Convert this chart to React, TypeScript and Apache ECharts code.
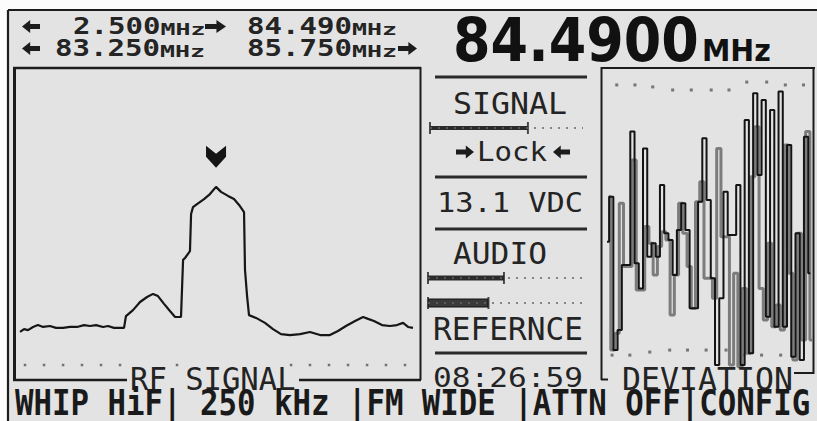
import React, { useEffect, useRef } from "react";
import * as echarts from "echarts";

// RF spectrum (MHz, relative level %)
const rfFreq = [83.269, 83.294, 83.319, 83.35, 83.381, 83.413, 83.456, 83.494, 83.538, 83.581, 83.625, 83.669, 83.706, 83.744, 83.788, 83.819, 83.856, 83.919, 83.931, 83.975, 84.019, 84.063, 84.1, 84.131, 84.169, 84.206, 84.238, 84.275, 84.288, 84.3, 84.331, 84.338, 84.35, 84.375, 84.419, 84.456, 84.494, 84.525, 84.569, 84.606, 84.638, 84.669, 84.675, 84.688, 84.7, 84.744, 84.8, 84.85, 84.9, 84.956, 85.019, 85.081, 85.144, 85.206, 85.256, 85.306, 85.363, 85.413, 85.444, 85.481, 85.531, 85.581, 85.625, 85.663, 85.694, 85.725];
const rfLevel = [15.4, 16.3, 16.0, 17.0, 17.6, 17.0, 17.3, 16.7, 16.7, 17.0, 17.0, 17.6, 17.3, 17.6, 17.0, 17.3, 16.7, 16.7, 20.5, 22.4, 25.0, 26.6, 27.6, 26.9, 24.4, 22.1, 20.2, 20.2, 38.5, 39.1, 41.3, 53.2, 55.4, 56.4, 58.0, 59.6, 61.9, 60.3, 59.0, 58.0, 56.1, 53.8, 35.3, 26.9, 20.8, 19.9, 18.3, 16.3, 14.7, 14.4, 14.7, 15.4, 14.4, 14.4, 15.7, 17.3, 18.9, 20.2, 19.6, 18.9, 17.6, 17.3, 17.6, 18.3, 17.0, 16.7];
const rfDotFreq = [83.3, 83.419, 83.538, 83.656, 83.775, 83.894, 84.25, 84.963, 85.081, 85.2, 85.319, 85.438, 85.556, 85.675];
const rfDotLevel = 4.8;

// Deviation (kHz) traces
const devBlack = [-10.4, 14.6, -70.5, -59.4, -23.3, -23.3, 50.7, -22.4, -36.3, 41.4, -18.7, -11.3, -18.7, 21.1, -5.7, -9.4, -28.9, -3.9, 10.9, -3.9, -47.3, -47.3, 11.8, 47.0, 12.8, -30.7, -78.8, -41.8, 17.4, -6.7, -6.7, 21.1, -78.8, 57.2, -72.3, 72.0, 26.6, 68.3, -52.0, 62.7, -57.5, 72.9, -57.5, 43.3, -74.2, -5.7, -76.0, 47.9, -27.9];
const devGray = [14.6, -70.5, -61.2, 10.9, -24.2, -24.2, 35.0, -37.2, -37.2, -2.0, -11.3, -28.9, -13.1, -4.8, -9.4, -51.1, -28.9, 10.9, -5.7, -24.2, -47.3, 11.8, 22.9, -30.7, -30.7, -41.8, 41.4, -7.6, -7.6, -78.8, -27.9, -79.7, -36.3, -72.3, 25.7, 53.4, -36.3, -53.8, -11.3, -57.5, -45.5, -59.4, 43.3, -27.9, -76.0, -5.7, -64.9, 50.7, -64.9];
const devHoldHighIdx = [2.3, 6.6, 10.8, 15.5, 19.9, 24.6, 28.8, 33.0, 37.7, 42.1, 46.4];
const devHoldHigh = [76.6, 76.6, 75.5, 73.8, 73.8, 73.8, 73.8, 78.2, 78.2, 76.6, 76.6];
const devHoldLowIdx = [1.2, 5.4, 10.1, 14.8, 19.0, 23.4, 28.1, 32.3, 36.5, 41.0];
const devHoldLow = [-73.3, -73.3, -71.6, -70.5, -70.5, -70.5, -70.5, -73.3, -73.3, -73.3];

// Meters (% of scale)
const signalLevel = 64;
const audioLevel = 49;
const refLevel = 39;

// Texts
const spanText = "2.500";
const centerText = "84.490";
const startText = "83.250";
const stopText = "85.750";
const tunedText = "84.4900";
const unitText = "MHz";
const voltText = "13.1 VDC";
const clockText = "08:26:59";
const statusText = "WHIP HiF| 250 kHz |FM WIDE |ATTN OFF|CONFIG";

const INK = "#1c1c1c";

echarts.graphic.registerShape("lcdArrowL", echarts.graphic.extendPath("M0,5 L5,0 L5,3 L11,3 L11,7 L5,7 L5,10 Z", {}));
echarts.graphic.registerShape("lcdArrowR", echarts.graphic.extendPath("M11,5 L6,0 L6,3 L0,3 L0,7 L6,7 L6,10 Z", {}));

function lcd(text: string, left: number, cy: number, capH: number, cell: number, o: any = {}) {
  const fs = cell / 0.602;
  const scaleY = capH / (0.729 * fs);
  return {
    type: "text",
    x: left,
    y: cy,
    scaleY,
    z: 60,
    silent: true,
    style: {
      text,
      fontFamily: "DejaVu Sans Mono",
      fontSize: fs,
      fontWeight: o.bold ? "bold" : "normal",
      fill: o.color || "#242424",
      textAlign: "left",
      verticalAlign: "middle",
      textVerticalAlign: "middle",
    },
  };
}

function arrow(dir: "L" | "R", left: number, cy: number, w: number, h: number) {
  return {
    type: dir === "L" ? "lcdArrowL" : "lcdArrowR",
    x: left,
    y: cy - h / 2,
    scaleX: w / 11,
    scaleY: h / 10,
    z: 60,
    silent: true,
    style: { fill: INK },
  };
}

function ln(x1: number, y1: number, x2: number, y2: number, w = 2, color = INK, dash?: number[]) {
  return {
    type: "line",
    z: 55,
    silent: true,
    shape: { x1, y1, x2, y2 },
    style: { stroke: color, lineWidth: w, lineDash: dash },
  };
}

export default function App() {
  const ref = useRef<HTMLDivElement>(null);
  useEffect(() => {
    document.body.style.margin = "0";
    const chart = echarts.init(ref.current!, null, { renderer: "svg" });

    const graphics: any[] = [
      { type: "rect", z: 50, silent: true, shape: { x: 0, y: 0, width: 817, height: 10 }, style: { fill: "#fcfcfc" } },
      { type: "rect", z: 50, silent: true, shape: { x: 0, y: 0, width: 8, height: 421 }, style: { fill: "#fcfcfc" } },
      // outer frame
      ln(8, 10, 817, 10, 2.2),
      ln(8, 10, 8, 421, 2.2),
      // left panel
      ln(13, 68, 421, 68, 2.5),
      ln(14.5, 67, 14.5, 381, 3),
      ln(420.5, 67, 420.5, 380, 2),
      ln(13, 380, 127, 380, 2.5),
      ln(299, 380, 421, 380, 2.5),
      // middle separators
      ln(435, 77, 587, 77, 3, "#2a2a2a"),
      ln(435, 177, 587, 177, 3, "#2a2a2a"),
      ln(435, 229, 587, 229, 3, "#2a2a2a"),
      ln(435, 353, 587, 353, 3, "#2a2a2a"),
      // meter tracks
      ln(430, 128, 583, 128, 1.5, "#666", [2, 6]),
      ln(428, 278, 583, 278, 1.5, "#666", [2, 6]),
      ln(428, 303, 583, 303, 1.5, "#666", [2, 6]),
      // right panel
      ln(601, 68, 815, 68, 2.2),
      ln(601.5, 67, 601.5, 380, 2),
      ln(601, 379.5, 608, 379.5, 2),
      ln(813.5, 67, 813.5, 374, 2),
      ln(794, 373, 814, 373, 2),
      // top-left texts
      arrow("L", 22, 26.5, 18, 13),
      lcd(spanText, 73, 26.5, 17, 17.5, { bold: true }),
      lcd(unitText, 160.5, 29.5, 12, 15, { bold: true }),
      arrow("R", 205, 26.5, 21, 13),
      lcd(centerText, 247, 26.5, 17, 17.5, { bold: true }),
      lcd(unitText, 352, 29.5, 12, 15, { bold: true }),
      arrow("L", 22, 48.5, 18, 13),
      lcd(startText, 55, 48, 17, 17.5, { bold: true }),
      lcd(unitText, 160, 51, 12, 15, { bold: true }),
      lcd(stopText, 247, 48, 17, 17.5, { bold: true }),
      lcd(unitText, 352, 51, 12, 15, { bold: true }),
      arrow("R", 398, 48.5, 19, 13),
      // big frequency
      {
        type: "text", x: 453, y: 40, scaleY: 1.11, z: 60, silent: true,
        style: { text: tunedText, fontFamily: "DejaVu Sans", fontSize: 54, fontWeight: "bold", fill: "#111", textAlign: "left", verticalAlign: "middle", textVerticalAlign: "middle" },
      },
      {
        type: "text", x: 702, y: 51, scaleY: 1.05, z: 60, silent: true,
        style: { text: unitText, fontFamily: "DejaVu Sans", fontSize: 28.5, fontWeight: "bold", fill: "#111", textAlign: "left", verticalAlign: "middle", textVerticalAlign: "middle" },
      },
      // middle panel
      lcd("SIGNAL", 453, 103, 22, 19),
      arrow("R", 456, 152, 18, 13),
      lcd("Lock", 477, 152, 20, 17.5),
      arrow("L", 553, 152, 17, 13),
      lcd(voltText, 437, 203, 20, 18.25),
      lcd("AUDIO", 453, 253.5, 22, 18.8),
      lcd("REFERNCE", 433, 328.5, 23, 18.75),
      lcd(clockText, 433, 377.5, 19, 18.75),
      // panel captions
      lcd("RF SIGNAL", 130, 378.5, 23, 18.4),
      lcd("DEVIATION", 622, 378.5, 23, 19),
      // status row
      lcd(statusText, 15, 402.6, 25.5, 18.5, { bold: true, color: "#1a1a1a" }),
    ];

    const meterGrid = (left: number, top: number, width: number) => ({ left, top, width, height: 12 });

    chart.setOption({
      animation: false,
      backgroundColor: "#e3e3e3",
      grid: [
        { left: 17, top: 68, width: 400, height: 312 },
        { left: 607, top: 68, width: 205, height: 310 },
        meterGrid(430, 122, 153),
        meterGrid(428, 272, 155),
        meterGrid(428, 297, 155),
      ],
      xAxis: [
        { type: "value", gridIndex: 0, min: 83.25, max: 85.75, show: false },
        { type: "value", gridIndex: 1, min: 0, max: 48.4, show: false },
        { type: "value", gridIndex: 2, min: 0, max: 100, show: false },
        { type: "value", gridIndex: 3, min: 0, max: 100, show: false },
        { type: "value", gridIndex: 4, min: 0, max: 100, show: false },
      ],
      yAxis: [
        { type: "value", gridIndex: 0, min: 0, max: 100, show: false },
        { type: "value", gridIndex: 1, min: -86, max: 86, show: false },
        { type: "category", gridIndex: 2, data: ["SIGNAL"], show: false },
        { type: "category", gridIndex: 3, data: ["AUDIO"], show: false },
        { type: "category", gridIndex: 4, data: ["REF"], show: false },
      ],
      series: [
        {
          type: "line", xAxisIndex: 0, yAxisIndex: 0, symbol: "none",
          data: rfFreq.map((f, i) => [f, rfLevel[i]]),
          lineStyle: { color: "#161616", width: 2.2 },
          markPoint: {
            symbol: "path://M0,0 L6,5 L12,0 L12,7 L6,14 L0,7 Z",
            symbolSize: [20, 22],
            symbolOffset: [0, -30],
            label: { show: false },
            itemStyle: { color: "#151515" },
            data: [{ type: "max", valueDim: "y" }],
          },
        },
        {
          type: "scatter", xAxisIndex: 0, yAxisIndex: 0, symbol: "rect", symbolSize: 2.5,
          data: rfDotFreq.map((f) => [f, rfDotLevel]),
          itemStyle: { color: "#555" },
        },
        {
          type: "line", xAxisIndex: 1, yAxisIndex: 1, symbol: "none", step: "middle",
          data: devGray.map((v, i) => [i + 0.4, v]),
          lineStyle: { color: "#7c7c7c", width: 3 },
        },
        {
          type: "line", xAxisIndex: 1, yAxisIndex: 1, symbol: "none", step: "middle",
          data: devBlack.map((v, i) => [i, v]),
          lineStyle: { color: "#141414", width: 2 },
        },
        {
          type: "scatter", xAxisIndex: 1, yAxisIndex: 1, symbol: "rect", symbolSize: 3,
          data: devHoldHighIdx.map((x, i) => [x, devHoldHigh[i]]).concat(devHoldLowIdx.map((x, i) => [x, devHoldLow[i]])),
          itemStyle: { color: "#5a5a5a" },
        },
        // meters
        { type: "bar", xAxisIndex: 2, yAxisIndex: 2, data: [signalLevel], barWidth: 4, itemStyle: { color: "#2b2b2b" } },
        { type: "scatter", xAxisIndex: 2, yAxisIndex: 2, symbol: "rect", symbolSize: [2, 12], data: [[0, "SIGNAL"], [signalLevel, "SIGNAL"]], itemStyle: { color: "#222" } },
        { type: "bar", xAxisIndex: 3, yAxisIndex: 3, data: [audioLevel], barWidth: 5, itemStyle: { color: "#2b2b2b" } },
        { type: "scatter", xAxisIndex: 3, yAxisIndex: 3, symbol: "rect", symbolSize: [2, 12], data: [[0, "AUDIO"], [audioLevel, "AUDIO"]], itemStyle: { color: "#222" } },
        { type: "bar", xAxisIndex: 4, yAxisIndex: 4, data: [refLevel], barWidth: 9, itemStyle: { color: "#3a3a3a", borderColor: "#111", borderWidth: 1 } },
        { type: "scatter", xAxisIndex: 4, yAxisIndex: 4, symbol: "rect", symbolSize: [2, 12], data: [[0, "REF"], [refLevel, "REF"]], itemStyle: { color: "#222" } },
      ],
      graphic: graphics,
    });
    return () => chart.dispose();
  }, []);
  return <div ref={ref} style={{ width: 817, height: 421 }} />;
}
